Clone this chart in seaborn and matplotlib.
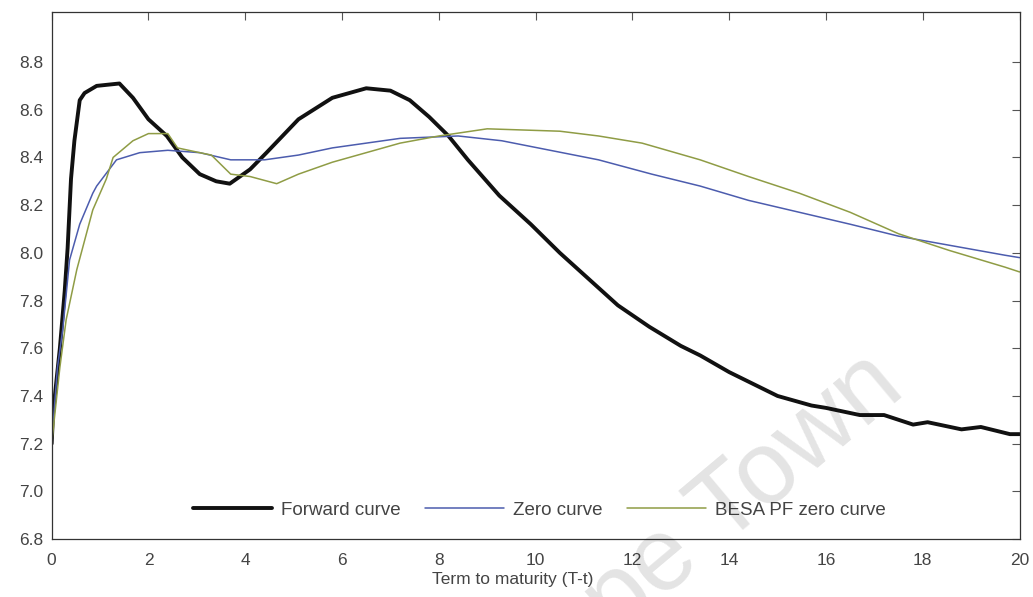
import numpy as np
import pandas as pd
import matplotlib
matplotlib.use("Agg")
import matplotlib.pyplot as plt
import seaborn as sns

# Term to maturity (years) and yields (%) for each curve
fwd_t = [0.0, 0.03, 0.17, 0.27, 0.33, 0.4, 0.47, 0.58, 0.68, 0.93, 1.4, 1.68, 2.0, 2.38,
         2.7, 3.06, 3.4, 3.68, 4.1, 4.44, 4.77, 5.1, 5.8, 6.5, 7.0, 7.4, 7.8, 8.2, 8.6,
         9.25, 9.9, 10.5, 11.1, 11.7, 12.35, 13.0, 13.4, 14.0, 14.6, 15.0, 15.7, 16.0,
         16.7, 17.2, 17.8, 18.1, 18.8, 19.2, 19.8, 20.0]
fwd_y = [7.20, 7.33, 7.60, 7.84, 8.02, 8.31, 8.47, 8.64, 8.67, 8.70, 8.71, 8.65, 8.56, 8.49,
         8.40, 8.33, 8.30, 8.29, 8.35, 8.42, 8.49, 8.56, 8.65, 8.69, 8.68, 8.64, 8.57, 8.49, 8.39,
         8.24, 8.12, 8.00, 7.89, 7.78, 7.69, 7.61, 7.57, 7.50, 7.44, 7.40, 7.36, 7.35,
         7.32, 7.32, 7.28, 7.29, 7.26, 7.27, 7.24, 7.24]

zero_t = [0.0, 0.12, 0.23, 0.37, 0.58, 0.85, 0.93, 1.34, 1.82, 2.4, 3.06, 3.7, 4.4, 5.1,
          5.8, 6.5, 7.2, 8.4, 9.3, 10.3, 11.3, 12.4, 13.4, 14.4, 15.45, 16.5, 17.5, 18.6,
          19.7, 20.0]
zero_y = [7.20, 7.52, 7.68, 7.97, 8.12, 8.25, 8.28, 8.39, 8.42, 8.43, 8.42, 8.39, 8.39, 8.41,
          8.44, 8.46, 8.48, 8.49, 8.47, 8.43, 8.39, 8.33, 8.28, 8.22, 8.17, 8.12, 8.07, 8.03,
          7.99, 7.98]

besa_t = [0.0, 0.17, 0.3, 0.52, 0.85, 1.13, 1.27, 1.68, 2.0, 2.4, 2.6, 3.06, 3.3, 3.7,
          4.1, 4.65, 5.1, 5.8, 6.5, 7.2, 8.0, 9.0, 10.5, 11.3, 12.2, 13.4, 14.4, 15.45,
          16.5, 17.5, 18.55, 19.7, 20.0]
besa_y = [7.20, 7.52, 7.72, 7.93, 8.18, 8.31, 8.40, 8.47, 8.50, 8.50, 8.44, 8.42, 8.41, 8.33,
          8.32, 8.29, 8.33, 8.38, 8.42, 8.46, 8.49, 8.52, 8.51, 8.49, 8.46, 8.39, 8.32, 8.25,
          8.17, 8.08, 8.01, 7.94, 7.92]

x_ticks = [0, 2, 4, 6, 8, 10, 12, 14, 16, 18, 20]
y_ticks = [6.8, 7.0, 7.2, 7.4, 7.6, 7.8, 8.0, 8.2, 8.4, 8.6, 8.8]

sns.set_theme(style="white")
plt.rcParams["font.family"] = ["Liberation Sans", "DejaVu Sans"]

fig = plt.figure(figsize=(10.33, 5.97), dpi=100)
ax = fig.add_axes([0.050, 0.097, 0.937, 0.883])

sns.lineplot(x=fwd_t, y=fwd_y, ax=ax, color="#111111", lw=2.8, label="Forward curve")
sns.lineplot(x=zero_t, y=zero_y, ax=ax, color="#4c5cae", lw=1.1, label="Zero curve")
sns.lineplot(x=besa_t, y=besa_y, ax=ax, color="#8f9c45", lw=1.1, label="BESA PF zero curve")

ax.set_xlim(0, 20)
ax.set_ylim(6.8, 9.01)
ax.set_xticks(x_ticks)
ax.set_xticklabels([f"{v:d}" for v in x_ticks])
ax.set_yticks(y_ticks)
ax.set_yticklabels([f"{v:.1f}" for v in y_ticks])
ax.tick_params(axis="both", direction="in", length=6, width=0.8, colors="#555555",
               labelcolor="#444444", labelsize=12.5, top=True, right=True)
ax.tick_params(axis="x", pad=10)
ax.tick_params(axis="y", pad=6)
for s in ax.spines.values():
    s.set_color("#333333")
    s.set_linewidth(0.9)

ax.set_xlabel("Term to maturity (T-t)", fontsize=12.5, color="#444444")
ax.xaxis.set_label_coords(0.476, -0.062)

leg = ax.legend(loc="center", bbox_to_anchor=(0.504, 0.055), ncol=3, frameon=False,
                fontsize=13.5, handlelength=4.2, columnspacing=1.3, handletextpad=0.5)
for t in leg.get_texts():
    t.set_color("#444444")

# faint translucent watermark
fig.text(0.672, 0.10, "Cape Town", fontsize=74, color="black", alpha=0.11, rotation=40,
         ha="center", va="center", zorder=10)

fig.savefig("out.png", dpi=100)
